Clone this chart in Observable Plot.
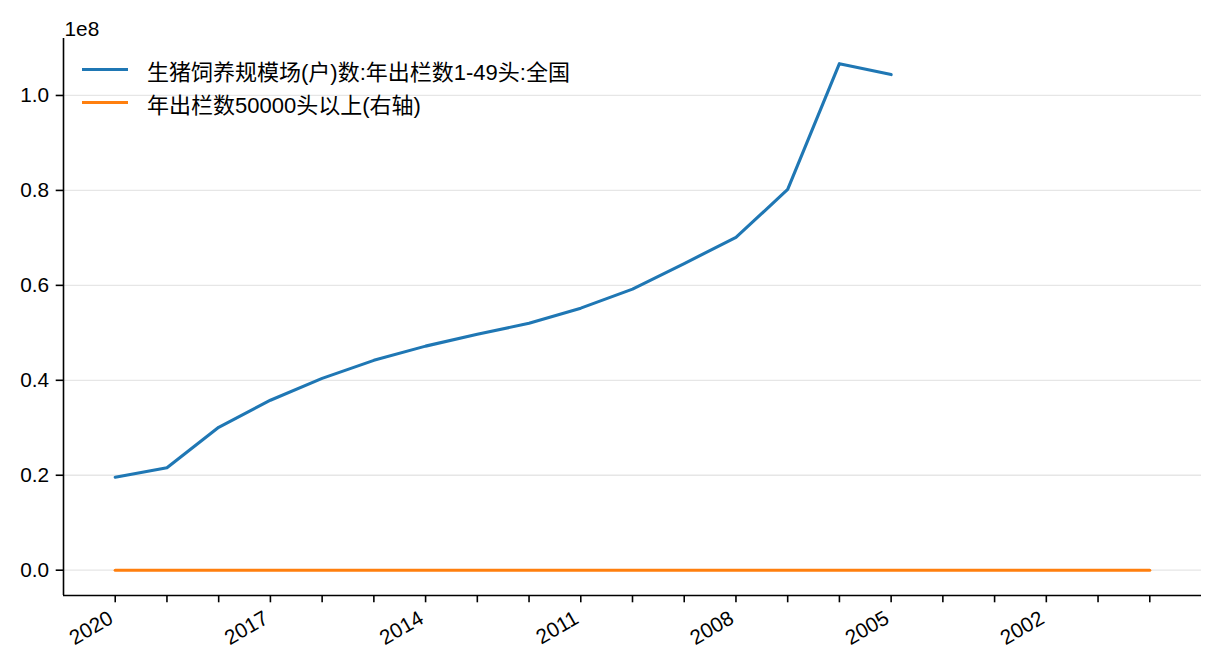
<!DOCTYPE html>
<html>
<head>
<meta charset="utf-8">
<script src="https://cdn.jsdelivr.net/npm/d3@7"></script>
<script src="https://cdn.jsdelivr.net/npm/@observablehq/plot@0.6"></script>
<style>
  html, body { margin: 0; padding: 0; background: #fff; }
  #wrap { position: relative; width: 1216px; height: 672px; font-family: "Liberation Sans", Arial, "Noto Sans CJK SC", sans-serif; }
  .legend { position: absolute; left: 82px; top: 53px; font-size: 22px; color: #000; }
  .legend .row { display: flex; align-items: center; height: 33px; }
  .legend .sw { width: 46px; height: 3.1px; margin-right: 19px; }
  .legend span { font-family: "Liberation Sans", Arial, "Noto Sans CJK SC", sans-serif; }
</style>
</head>
<body>
<div id="wrap"></div>
<script>
// Data
const years = [2020, 2019, 2018, 2017, 2016, 2015, 2014, 2013, 2012, 2011, 2010, 2009, 2008, 2007, 2006, 2005];
const smallFarms = [19600000, 21600000, 30100000, 35800000, 40400000, 44200000, 47200000, 49700000, 52000000, 55200000, 59200000, 64600000, 70100000, 80200000, 106700000, 104400000];
const largeYears = [2020, 2019, 2018, 2017, 2016, 2015, 2014, 2013, 2012, 2011, 2010, 2009, 2008, 2007, 2006, 2005, 2004, 2003, 2002, 2001, 2000];
const largeFarms = [0, 0, 0, 0, 0, 0, 0, 0, 0, 0, 0, 0, 0, 0, 0, 0, 0, 0, 0, 0, 0];
const seriesNames = ["生猪饲养规模场(户)数:年出栏数1-49头:全国", "年出栏数50000头以上(右轴)"];
const colors = ["#1f77b4", "#ff7f0e"];
const tickYears = d3.range(2020, 1999, -1);
const labelYears = [2020, 2017, 2014, 2011, 2008, 2005, 2002];
const yTicks = [0, 0.2e8, 0.4e8, 0.6e8, 0.8e8, 1.0e8];

const blue = years.map((y, i) => ({year: y, value: smallFarms[i]}));
const orange = largeYears.map((y, i) => ({year: y, value: largeFarms[i]}));

const xDomain = [2021, 1999];
const yDomain = [-0.0533e8, 1.12e8];
const FS = 20.8;

const chart = Plot.plot({
  width: 1216,
  height: 672,
  marginLeft: 63,
  marginRight: 15,
  marginTop: 38,
  marginBottom: 77,
  style: {fontFamily: '"Liberation Sans", Arial, "Noto Sans CJK SC", sans-serif', fontSize: FS + "px", color: "#000", background: "#fff"},
  x: {domain: xDomain, type: "linear"},
  y: {domain: yDomain},
  marks: [
    Plot.gridY(yTicks, {stroke: "#e6e6e6", strokeOpacity: 1, strokeWidth: 1.3}),
    Plot.axisY({ticks: yTicks, tickFormat: d => (d / 1e8).toFixed(1), tickSize: 7.3, tickPadding: 7, fontSize: FS, label: null, stroke: "#000", strokeWidth: 1.6}),
    Plot.axisX({ticks: tickYears, tickFormat: () => "", tickSize: 7.3, label: null, stroke: "#000", strokeWidth: 1.6}),
    Plot.axisX({ticks: labelYears, tickFormat: d => String(d), tickSize: 0, tickPadding: 21, tickRotate: -30, dx: -4, fontSize: FS, label: null}),
    Plot.ruleX([xDomain[0]], {stroke: "#000", strokeWidth: 1.6}),
    Plot.ruleY([yDomain[0]], {stroke: "#000", strokeWidth: 1.6}),
    Plot.lineY(blue, {x: "year", y: "value", stroke: colors[0], strokeWidth: 3.1}),
    Plot.lineY(orange, {x: "year", y: "value", stroke: colors[1], strokeWidth: 3.1}),
    Plot.text(["1e8"], {frameAnchor: "top-left", text: d => d, dy: -17, dx: 1, textAnchor: "start", fontSize: FS})
  ]
});

d3.select(chart).selectAll("g[aria-label]").attr("font-size", FS);
d3.select(chart).selectAll("text").attr("font-size", FS).style("font-size", FS + "px").attr("fill", "#000");

const wrap = document.getElementById("wrap");
wrap.appendChild(chart);

const legend = document.createElement("div");
legend.className = "legend";
seriesNames.forEach((name, i) => {
  const row = document.createElement("div");
  row.className = "row";
  const sw = document.createElement("div");
  sw.className = "sw";
  sw.style.background = colors[i];
  const label = document.createElement("span");
  label.textContent = name;
  row.appendChild(sw);
  row.appendChild(label);
  legend.appendChild(row);
});
wrap.appendChild(legend);
</script>
</body>
</html>
